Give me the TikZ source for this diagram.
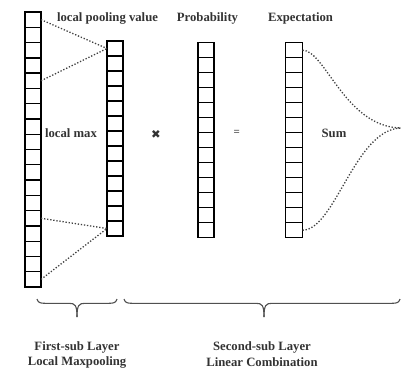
\documentclass[tikz,border=0pt]{standalone}
\usepackage{fontspec}
\setmainfont{Liberation Serif}
\newfontfamily\symfont{DejaVu Sans}
\definecolor{textgray}{HTML}{333333}
\definecolor{dotgray}{HTML}{404040}
\definecolor{bracegray}{HTML}{505050}
\begin{document}
\begin{tikzpicture}[x=1pt,y=-1pt,
  cell/.style={draw=black, fill=white, line width=1.35pt, minimum width=16pt, minimum height=15pt, inner sep=0pt, outer sep=0pt},
  lbl/.style={font=\fontsize{12.7}{15}\selectfont\bfseries, text=textgray, inner sep=0pt},
  dots/.style={draw=dotgray, line width=1.3pt, dash pattern=on 1.3pt off 1.8pt},
  bracepath/.style={draw=bracegray, line width=1.1pt}]
\useasboundingbox (0,0) rectangle (401,373);
% columns
\foreach \i in {1,...,18} \node[cell, minimum height=15.28pt] (a\i) at (33, {12+15.28*(\i-0.5)}) {};
\foreach \i in {1,...,13} \node[cell] (b\i) at (115, {41+15*(\i-0.5)}) {};
\foreach \i in {1,...,13} \node[cell] (c\i) at (206, {42.7+15*(\i-0.5)}) {};
\foreach \i in {1,...,13} \node[cell, minimum width=17pt] (d\i) at (294, {42.7+15*(\i-0.5)}) {};
% labels
\node[lbl] (lpv) at (107.5,18) {local pooling value};
\node[lbl] (prob) at (207.5,18) {Probability};
\node[lbl] (expt) at (300.5,18) {Expectation};
\node[lbl] (lmax) at (71,133) {local max};
\node[lbl] (sum) at (334,133) {Sum};
\node[text=textgray, inner sep=0pt, font=\symfont\fontsize{11.5}{13}\selectfont] (times) at (156,134) {✖};
\node[text=black!70, inner sep=0pt, font=\fontsize{11}{12}\selectfont\bfseries] (eq) at (236.7,132.5) {=};
% dotted connectors
\draw[dots] (a1.east) -- (b1.west);
\draw[dots] (a5.east) -- (b1.west);
\draw[dots] (a14.east) -- (b13.west);
\draw[dots] (a18.east) -- (b13.west);
\coordinate (tip) at (401,128);
\draw[dots] (d1.east) .. controls (325,50) and (345,127) .. (tip);
\draw[dots] (d13.east) .. controls (335,230) and (355,129) .. (tip);
% braces
\draw[bracepath] (37,299) .. controls (38,302.5) and (40,303.3) .. (45,303.3) -- (69,303.3) .. controls (75,303.3) and (77,305) .. (77,317);
\draw[bracepath] (117,299) .. controls (116,302.5) and (114,303.3) .. (109,303.3) -- (85,303.3) .. controls (79,303.3) and (77,305) .. (77,317);
\draw[bracepath] (124,299) .. controls (125,302.5) and (127,303.3) .. (132,303.3) -- (256,303.3) .. controls (262,303.3) and (264,305) .. (264,317);
\draw[bracepath] (400,299) .. controls (399,302.5) and (397,303.3) .. (392,303.3) -- (272,303.3) .. controls (266,303.3) and (264,305) .. (264,317);
% bottom texts
\node[lbl, align=center] (l1a) at (77,347) {First-sub Layer};
\node[lbl, align=center] (l1b) at (77,362) {Local Maxpooling};
\node[lbl, align=center] (l2a) at (262,347) {Second-sub Layer};
\node[lbl, align=center] (l2b) at (262,362) {Linear Combination};
\end{tikzpicture}
\end{document}
